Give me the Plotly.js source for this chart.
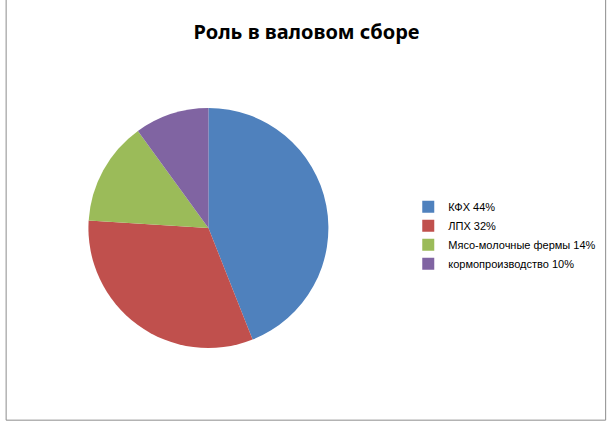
<!DOCTYPE html>
<html>
<head>
<meta charset="utf-8">
<script src="https://cdn.plot.ly/plotly-3.0.1.min.js"></script>
<style>
  body { margin: 0; background: #fff; }
  #plotArea { width: 613px; height: 427px; }
</style>
</head>
<body>
<div id="plotArea"></div>
<script>
// Роль в валовом сборе
var categories = ["КФХ", "ЛПХ", "Мясо-молочные фермы", "кормопроизводство"];
var shares = [44, 32, 14, 10];
var colors = ["#4F81BD", "#C0504D", "#9BBB59", "#8064A2"];

var labels = categories.map(function (c, i) { return c + " " + shares[i] + "%"; });

var trace = {
    labels: labels,
    values: shares,
    type: "pie",
    sort: false,
    direction: "clockwise",
    rotation: 0,
    textinfo: "none",
    hoverinfo: "label",
    marker: {colors: colors, line: {width: 0}},
    domain: {x: [0.04, 0.64], y: [0.185, 0.747]}
};

var layout = {
    title: {
        text: "<b>Роль в валовом сборе</b>",
        font: {family: "Noto Sans, sans-serif", size: 20, color: "#000"},
        x: 0.5, xanchor: "center", y: 0.925, yanchor: "middle"
    },
    showlegend: true,
    legend: {
        x: 0.666, y: 0.55, xanchor: "left", yanchor: "top",
        bgcolor: "rgba(0,0,0,0)",
        font: {family: "Liberation Sans, sans-serif", size: 11, color: "#000"},
        itemwidth: 30
    },
    margin: {l: 0, r: 0, t: 0, b: 0},
    paper_bgcolor: "#fff",
    shapes: [{
        type: "rect", xref: "paper", yref: "paper",
        x0: 0.01, x1: 0.988, y0: 0.016, y1: 1.1,
        line: {color: "#8c8c8c", width: 1}
    }]
};

Plotly.newPlot("plotArea", [trace], layout, {displayModeBar: false});
</script>
</body>
</html>
